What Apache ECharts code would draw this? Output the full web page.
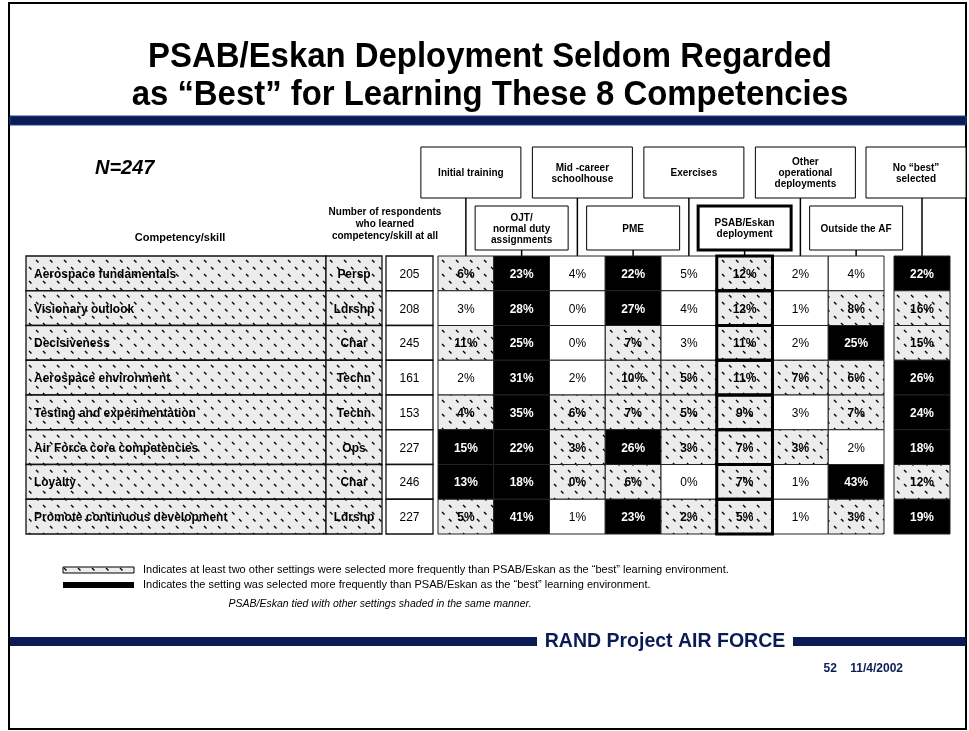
<!DOCTYPE html>
<html>
<head>
<meta charset="utf-8">
<script src="https://cdn.jsdelivr.net/npm/echarts@6/dist/echarts.min.js"></script>
<style>
html,body{margin:0;padding:0;background:#fff;}
#chart{width:969px;height:731px;}
</style>
</head>
<body>
<div id="chart"></div>
<script>
// competencies (rows)
var rowLabels = ['Aerospace fundamentals', 'Visionary outlook', 'Decisiveness', 'Aerospace environment',
    'Testing and experimentation', 'Air Force core competencies', 'Loyalty', 'Promote continuous development'];
var areas = ['Persp', 'Ldrshp', 'Char', 'Techn', 'Techn', 'Ops', 'Char', 'Ldrshp'];
var respondents = [205, 208, 245, 161, 153, 227, 246, 227];
// learning settings (columns)
var settings = ['Initial training', 'OJT/\nnormal duty\nassignments', 'Mid -career\nschoolhouse', 'PME',
    'Exercises', 'PSAB/Eskan\ndeployment', 'Other\noperational\ndeployments', 'Outside the AF'];
var noBestLabel = 'No “best”\nselected';
// % selecting each setting as "best"
var pctValues = [
    [6, 23, 4, 22, 5, 12, 2, 4],
    [3, 28, 0, 27, 4, 12, 1, 8],
    [11, 25, 0, 7, 3, 11, 2, 25],
    [2, 31, 2, 10, 5, 11, 7, 6],
    [4, 35, 6, 7, 5, 9, 3, 7],
    [15, 22, 3, 26, 3, 7, 3, 2],
    [13, 18, 0, 6, 0, 7, 1, 43],
    [5, 41, 1, 23, 2, 5, 1, 3]
];
var noBest = [22, 16, 15, 26, 24, 18, 12, 19];
// 0 = plain, 1 = hatched, 2 = black
var pctShade = [
    [1, 2, 0, 2, 0, 1, 0, 0],
    [0, 2, 0, 2, 0, 1, 0, 1],
    [1, 2, 0, 1, 0, 1, 0, 2],
    [0, 2, 0, 1, 1, 1, 1, 1],
    [1, 2, 1, 1, 1, 1, 0, 1],
    [2, 2, 1, 2, 1, 1, 1, 0],
    [2, 2, 1, 1, 0, 1, 0, 2],
    [1, 2, 0, 2, 1, 1, 0, 1]
];
var noBestShade = [2, 1, 1, 2, 2, 2, 1, 2];
var psabIndex = 5;

var FONT = '"Liberation Sans", Arial, Helvetica, sans-serif';
var NAVY = '#0b1c55';

function makeHatch() {
    var c = document.createElement('canvas');
    c.width = 14; c.height = 14;
    var ctx = c.getContext('2d');
    ctx.fillStyle = '#ececec';
    ctx.fillRect(0, 0, 14, 14);
    ctx.strokeStyle = '#000';
    ctx.lineWidth = 1.4;
    ctx.beginPath();
    ctx.moveTo(1, 1); ctx.lineTo(3.5, 3.5);
    ctx.moveTo(8, 8); ctx.lineTo(10.5, 10.5);
    ctx.stroke();
    return c;
}
var hatch = {image: makeHatch(), repeat: 'repeat'};

function fillOf(kind) {
    return kind == 2 ? '#000' : (kind == 1 ? hatch : '#fff');
}

var rowsTop = 256, rowsHeight = 278;
var grids = [
    {left: 26, top: rowsTop, width: 300, height: rowsHeight},   // competency
    {left: 326, top: rowsTop, width: 56, height: rowsHeight},   // area
    {left: 386, top: rowsTop, width: 47, height: rowsHeight},   // respondents
    {left: 438, top: rowsTop, width: 446, height: rowsHeight},  // settings
    {left: 894, top: rowsTop, width: 56, height: rowsHeight}    // no best
];
var xAxes = [], yAxes = [];
for (var g = 0; g < grids.length; g++) {
    xAxes.push({type: 'category', gridIndex: g, show: false,
        data: g == 3 ? settings : ['c']});
    yAxes.push({type: 'category', gridIndex: g, show: false, inverse: true, data: rowLabels});
}

function cellRect(api, xi, yi) {
    var p = api.coord([xi, yi]);
    var s = api.size([1, 1]);
    return {x: p[0] - s[0] / 2, y: p[1] - s[1] / 2, width: s[0], height: s[1], cx: p[0], cy: p[1]};
}

// label cells (competency / area / respondents)
function textColumn(values, align, bold, kind) {
    return function (params, api) {
        var r = cellRect(api, 0, params.dataIndex);
        return {
            type: 'group',
            children: [
                {type: 'rect', shape: {x: r.x, y: r.y, width: r.width, height: r.height},
                    style: {fill: fillOf(kind), stroke: '#111', lineWidth: 1.3}},
                {type: 'text', x: align == 'left' ? r.x + 8 : r.cx, y: r.cy + 1, scaleX: 0.92,
                    style: {text: String(values[params.dataIndex]), fill: '#000', align: align,
                        verticalAlign: 'middle', font: (bold ? 'bold ' : '') + '13px ' + FONT}}
            ]
        };
    };
}

function pctCell(params, api) {
    var xi = api.value(0), yi = api.value(1), v = api.value(2), kind = api.value(3);
    var r = cellRect(api, xi, yi);
    var children = [
        {type: 'rect', shape: {x: r.x, y: r.y, width: r.width, height: r.height},
            style: {fill: fillOf(kind), stroke: '#222', lineWidth: 1}},
        {type: 'text', x: r.cx, y: r.cy + 1, z2: 5, scaleX: 0.92,
            style: {text: v + '%', fill: kind == 2 ? '#fff' : '#000', align: 'center', verticalAlign: 'middle',
                font: (kind ? 'bold ' : '') + '13px ' + FONT}}
    ];
    if (params.seriesIndex == 3 && xi == psabIndex) {
        children.push({type: 'rect', z2: 10, shape: {x: r.x, y: r.y, width: r.width, height: r.height},
            style: {fill: 'none', stroke: '#000', lineWidth: 3}});
    }
    return {type: 'group', children: children};
}

// column header boxes, alternating high / low, joined to the table by a line
function headerItem(labels, staggered) {
    return function (params, api) {
        var i = params.dataIndex;
        var x = api.coord([i, 0])[0];
        var top = params.coordSys.y;
        var low = staggered && i % 2 == 1;
        var w = low ? 93 : 100, h = low ? 44 : 51;
        var by = low ? top - 50 : top - 109;
        var bx = Math.min(x - w / 2 + (low ? 0 : 5), 966 - w);
        var thick = staggered && i == psabIndex;
        return {
            type: 'group',
            children: [
                {type: 'line', shape: {x1: x, y1: by + h, x2: x, y2: top},
                    style: {stroke: '#000', lineWidth: 1.5}},
                {type: 'rect', shape: {x: bx, y: by, width: w, height: h},
                    style: {fill: '#fff', stroke: '#000', lineWidth: thick ? 3 : 1}},
                {type: 'text', x: bx + w / 2, y: by + h / 2 + 1,
                    style: {text: labels[i], align: 'center', verticalAlign: 'middle', fill: '#000',
                        font: 'bold 10px ' + FONT, lineHeight: 11}}
            ]
        };
    };
}

var pctData = [];
for (var r = 0; r < pctValues.length; r++) {
    for (var c = 0; c < settings.length; c++) {
        pctData.push([c, r, pctValues[r][c], pctShade[r][c]]);
    }
}
var noBestData = noBest.map(function (v, r) { return [0, r, v, noBestShade[r]]; });
var rowIdx = rowLabels.map(function (l, r) { return [0, r]; });

var option = {
    animation: false,
    backgroundColor: '#fff',
    grid: grids,
    xAxis: xAxes,
    yAxis: yAxes,
    series: [
        {type: 'custom', xAxisIndex: 0, yAxisIndex: 0, data: rowIdx, renderItem: textColumn(rowLabels, 'left', true, 1)},
        {type: 'custom', xAxisIndex: 1, yAxisIndex: 1, data: rowIdx, renderItem: textColumn(areas, 'center', true, 1)},
        {type: 'custom', xAxisIndex: 2, yAxisIndex: 2, data: rowIdx, renderItem: textColumn(respondents, 'center', false, 0)},
        {type: 'custom', xAxisIndex: 3, yAxisIndex: 3, data: pctData, renderItem: pctCell},
        {type: 'custom', xAxisIndex: 4, yAxisIndex: 4, data: noBestData, renderItem: pctCell},
        {type: 'custom', xAxisIndex: 3, yAxisIndex: 3, z: 1,
            data: settings.map(function (s, i) { return [i, 0]; }), renderItem: headerItem(settings, true)},
        {type: 'custom', xAxisIndex: 4, yAxisIndex: 4, z: 1,
            data: [[0, 0]], renderItem: headerItem([noBestLabel], false)}
    ],
    graphic: [
        // slide frame
        {type: 'rect', shape: {x: 9, y: 3, width: 957, height: 726}, style: {fill: 'none', stroke: '#000', lineWidth: 2}, z: -1},
        {type: 'text', x: 490, y: 57, scaleX: 0.94, style: {text: 'PSAB/Eskan Deployment Seldom Regarded', font: 'bold 35px ' + FONT,
            fill: '#000', align: 'center', verticalAlign: 'middle'}},
        {type: 'text', x: 490, y: 95, scaleX: 0.94, style: {text: 'as “Best” for Learning These 8 Competencies', font: 'bold 35px ' + FONT,
            fill: '#000', align: 'center', verticalAlign: 'middle'}},
        {type: 'rect', shape: {x: 10, y: 116, width: 956, height: 9}, style: {fill: NAVY, stroke: '#23408f', lineWidth: 1}},
        {type: 'text', x: 95, y: 168, style: {text: 'N=247', font: 'italic bold 20px ' + FONT, fill: '#000', verticalAlign: 'middle'}},
        {type: 'text', x: 180, y: 238, style: {text: 'Competency/skill', font: 'bold 11px ' + FONT, fill: '#000',
            align: 'center', verticalAlign: 'middle'}},
        {type: 'text', x: 385, y: 224, style: {text: 'Number of respondents\nwho learned\ncompetency/skill at all',
            font: 'bold 10px ' + FONT, lineHeight: 12, fill: '#000', align: 'center', verticalAlign: 'middle'}},
        // key
        {type: 'rect', shape: {x: 63, y: 567, width: 71, height: 6}, style: {fill: hatch, stroke: '#000', lineWidth: 1}},
        {type: 'text', x: 143, y: 570, style: {text: 'Indicates at least two other settings were selected more frequently than PSAB/Eskan as the “best” learning environment.',
            font: '11px ' + FONT, fill: '#000', verticalAlign: 'middle'}},
        {type: 'rect', shape: {x: 63, y: 582, width: 71, height: 6}, style: {fill: '#000'}},
        {type: 'text', x: 143, y: 585, style: {text: 'Indicates the setting was selected more frequently than PSAB/Eskan as the “best” learning environment.',
            font: '11px ' + FONT, fill: '#000', verticalAlign: 'middle'}},
        {type: 'text', x: 380, y: 604, style: {text: 'PSAB/Eskan tied with other settings shaded in the same manner.',
            font: 'italic 10.5px ' + FONT, fill: '#000', align: 'center', verticalAlign: 'middle'}},
        // footer
        {type: 'rect', shape: {x: 10, y: 637, width: 527, height: 9}, style: {fill: NAVY}},
        {type: 'rect', shape: {x: 793, y: 637, width: 173, height: 9}, style: {fill: NAVY}},
        {type: 'text', x: 665, y: 642, style: {text: 'RAND Project AIR FORCE', font: 'bold 19.5px ' + FONT, fill: NAVY,
            align: 'center', verticalAlign: 'middle'}},
        {type: 'text', x: 903, y: 669, style: {text: '52    11/4/2002', font: 'bold 12px ' + FONT, fill: NAVY,
            align: 'right', verticalAlign: 'middle'}}
    ]
};

var myChart = echarts.init(document.getElementById('chart'));
myChart.setOption(option);
</script>
</body>
</html>
